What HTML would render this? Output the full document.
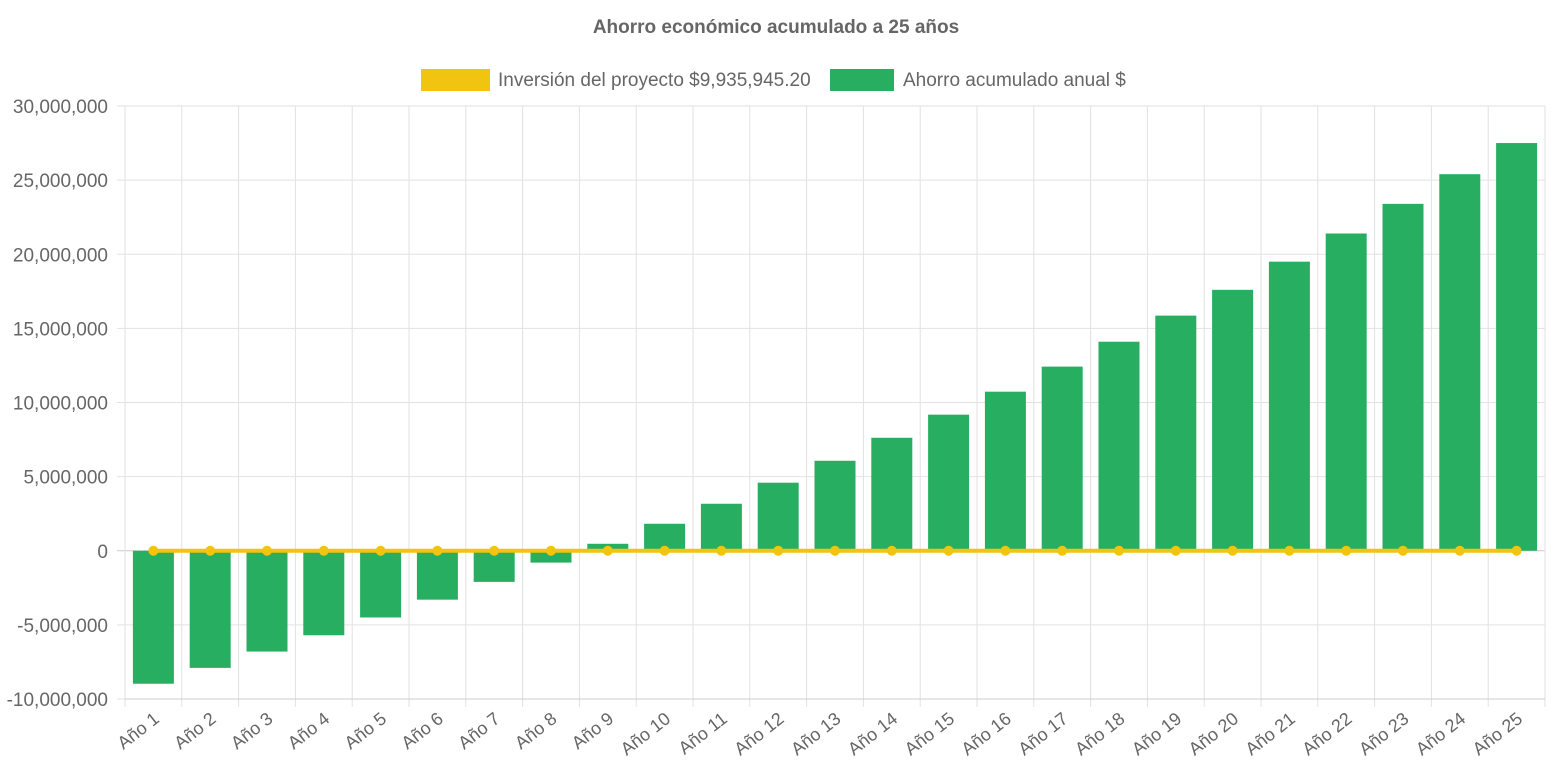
<!DOCTYPE html>
<html><head><meta charset="utf-8"><style>
html,body{margin:0;padding:0;background:#fff;}
svg{display:block;font-family:"Liberation Sans",Arial,sans-serif;}
</style></head><body>
<svg id="chart" width="1553" height="776">
<text x="776" y="33" text-anchor="middle" font-size="19" font-weight="bold" fill="#666">Ahorro económico acumulado a 25 años</text>
<g>
<rect x="421" y="69" width="69" height="22" fill="#f1c40f"/>
<text x="498" y="86" font-size="19" fill="#666">Inversión del proyecto $9,935,945.20</text>
<rect x="830" y="69" width="64" height="22" fill="#27ae60"/>
<text x="903" y="86" font-size="19" fill="#666">Ahorro acumulado anual $</text>
</g>
<g id="grid"></g><g id="bars"></g><g id="line"></g><g id="axes"></g>
</svg>
<script>
const categories=[];for(let i=1;i<=25;i++)categories.push('Año '+i);
const savings=[-8.97,-7.9,-6.8,-5.7,-4.5,-3.3,-2.1,-0.8,0.47,1.82,3.17,4.59,6.07,7.62,9.18,10.73,12.42,14.1,15.86,17.6,19.5,21.4,23.4,25.4,27.5].map(v=>v*1e6);
const investmentLine=new Array(25).fill(0);
const yTicks=[30e6,25e6,20e6,15e6,10e6,5e6,0,-5e6,-10e6];
const NS='http://www.w3.org/2000/svg';
const L=125,R=1545,T=106,B=699,yMax=30e6,yMin=-10e6;
const y=v=>T+(yMax-v)/(yMax-yMin)*(B-T);
const bw=(R-L)/categories.length;
const x=i=>L+bw*(i+0.5);
function mk(tag,parent,attrs){const e=document.createElementNS(NS,tag);for(const k in attrs)e.setAttribute(k,attrs[k]);document.getElementById(parent).appendChild(e);return e;}
yTicks.forEach(t=>{
 const g=mk('line','grid',{x1:L-8,x2:R,y1:y(t),y2:y(t),stroke:t===0?'#ccc':'#e2e2e2','stroke-width':1});
 
 
 const tx=mk('text','axes',{x:L-17,y:y(t)+7,'text-anchor':'end','font-size':19,fill:'#666'});
 tx.textContent=t.toLocaleString('en-US');
 
 
});
for(let i=0;i<=categories.length;i++){
 const gx=L+bw*i;
 const g=mk('line','grid',{x1:gx,x2:gx,y1:T,y2:B+8,stroke:'#e2e2e2','stroke-width':1});
 
 
}
const ax=mk('line','axes',{x1:L,x2:R,y1:B,y2:B,stroke:'#ccc'});


categories.forEach((c,i)=>{
 const v=savings[i];const y0=y(0),y1=y(v);
 const b=mk('rect','bars',{x:x(i)-20.5,width:41,y:Math.min(y0,y1),height:Math.abs(y1-y0),fill:'#27ae60'});
 
 
 const tx=mk('text','axes',{'text-anchor':'end','font-size':18,fill:'#666',transform:'translate('+(x(i)+7)+','+(B+22)+') rotate(-38)'});
 tx.textContent=c;
 
 
});
const pts=investmentLine.map((v,i)=>x(i)+','+y(v)).join(' ');
const pl=mk('polyline','line',{points:pts,fill:'none',stroke:'#f1c40f','stroke-width':4});


investmentLine.forEach((v,i)=>{
 const c=mk('circle','line',{cx:x(i),cy:y(v),r:5,fill:'#f1c40f'});
 
 
});
</script>
</body></html>
